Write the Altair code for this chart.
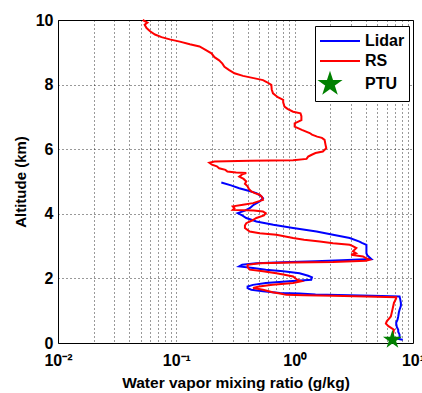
import altair as alt
import pandas as pd

# ---- data ----
rs_alt = [0.10, 0.21, 0.30, 0.41, 0.52, 0.60, 0.67, 0.82, 1.03, 1.24, 1.38, 1.42, 1.44, 1.46, 1.48, 1.49,
          1.53, 1.57, 1.65, 1.70, 1.75, 1.80, 1.86, 1.91, 1.96, 2.06, 2.12, 2.16, 2.22, 2.27, 2.35, 2.42,
          2.47, 2.49, 2.51, 2.55, 2.58, 2.63, 2.68, 2.73, 2.78, 2.84, 2.94, 3.00, 3.04, 3.09, 3.14, 3.20,
          3.25, 3.35, 3.40, 3.45, 3.56, 3.64, 3.71, 3.80, 3.87, 3.95, 4.02, 4.07, 4.10, 4.12, 4.17, 4.23,
          4.28, 4.33, 4.43, 4.52, 4.59, 4.64, 4.69, 4.77, 4.85, 4.93, 5.00, 5.08, 5.15, 5.22, 5.26, 5.28,
          5.31, 5.36, 5.41, 5.47, 5.52, 5.58, 5.62, 5.64, 5.66, 5.70, 5.77, 5.82, 5.88, 5.93, 6.03, 6.15,
          6.29, 6.35, 6.39, 6.45, 6.50, 6.60, 6.70, 6.80, 6.90, 7.02, 7.11, 7.16, 7.25, 7.32, 7.45, 7.53,
          7.61, 7.73, 7.85, 7.99, 8.08, 8.14, 8.20, 8.27, 8.35, 8.45, 8.55, 8.65, 8.75, 8.85, 8.97, 9.08,
          9.18, 9.25, 9.33, 9.40, 9.47, 9.55, 9.65, 9.75, 9.85, 9.92, 10.0]
rs_val = [6.9, 6.7, 6.8, 6.9, 6.2, 5.9, 6.0, 6.5, 6.7, 6.9, 7.2, 7.2, 4.0, 2.1, 1.2, 0.85,
          0.75, 0.65, 0.54, 0.445, 0.50, 0.65, 0.97, 1.14, 1.05, 0.97, 0.80, 0.70, 0.54, 0.417, 0.40, 0.40,
          0.506, 0.97, 2.11, 4.0, 4.3, 4.0, 3.78, 3.0, 3.3, 3.11, 3.32, 3.1, 2.92, 2.11, 1.63, 1.2,
          0.97, 0.70, 0.506, 0.417, 0.38, 0.38, 0.39, 0.44, 0.475, 0.55, 0.57, 0.54, 0.45, 0.30, 0.31, 0.30,
          0.366, 0.445, 0.54, 0.53, 0.506, 0.46, 0.43, 0.41, 0.40, 0.38, 0.39, 0.37, 0.34, 0.36, 0.39, 0.32,
          0.27, 0.26, 0.23, 0.22, 0.20, 0.19, 0.21, 0.42, 0.97, 1.26, 1.30, 1.38, 1.50, 1.73, 1.85, 1.82,
          1.79, 1.70, 1.55, 1.40, 1.34, 1.15, 1.0, 1.0, 1.14, 1.14, 1.12, 0.97, 0.87, 0.82, 0.80, 0.80,
          0.72, 0.656, 0.64, 0.635, 0.58, 0.54, 0.45, 0.366, 0.31, 0.28, 0.255, 0.245, 0.23, 0.21, 0.198, 0.175,
          0.157, 0.13, 0.107, 0.088, 0.075, 0.066, 0.060, 0.056, 0.054, 0.057, 0.052]

lidar_alt = [0.10, 0.12, 0.15, 0.26, 0.35, 0.41, 0.50, 0.62, 0.72, 0.82, 0.95, 1.03, 1.15, 1.24, 1.35, 1.44,
             1.46, 1.48, 1.50, 1.53, 1.55, 1.60, 1.65, 1.70, 1.75, 1.80, 1.86, 1.91, 1.96, 2.03, 2.08, 2.16,
             2.22, 2.27, 2.32, 2.37, 2.42, 2.47, 2.50, 2.53, 2.56, 2.60, 2.65, 2.72, 2.78, 2.90, 3.04, 3.10,
             3.14, 3.25, 3.35, 3.45, 3.56, 3.66, 3.76, 3.87, 3.95, 4.02, 4.10, 4.18, 4.28, 4.38, 4.48, 4.55,
             4.64, 4.72, 4.79, 4.88, 4.97]
lidar_val = [8.2, 7.6, 7.7, 7.7, 7.5, 7.5, 7.3, 7.2, 7.4, 7.5, 7.6, 7.7, 7.9, 7.9, 7.8, 7.7,
             4.5, 2.9, 1.5, 1.1, 0.75, 0.54, 0.43, 0.40, 0.40, 0.445, 0.57, 0.9, 1.38, 1.40, 1.30, 1.1,
             0.8, 0.57, 0.445, 0.34, 0.36, 0.475, 0.8, 1.5, 2.5, 4.45, 4.3, 4.1, 4.04, 4.04, 4.04, 3.7,
             3.53, 2.92, 2.11, 1.53, 0.97, 0.66, 0.475, 0.39, 0.36, 0.33, 0.38, 0.42, 0.45, 0.506, 0.54, 0.52,
             0.475, 0.40, 0.34, 0.29, 0.24]

ptu_alt = [0.1]
ptu_val = [6.7]

names = ["Lidar", "RS", "PTU"]
colors = ["#0000FF", "#FF0000", "#008000"]
x_ticks = [m * 10.0 ** e for e in (-2, -1, 0) for m in range(1, 10)] + [10.0]
y_ticks = [0, 2, 4, 6, 8, 10]

# ---- tables ----
lines = pd.concat([
    pd.DataFrame({"series": "Lidar", "alt": lidar_alt, "val": lidar_val, "i": range(len(lidar_alt))}),
    pd.DataFrame({"series": "RS", "alt": rs_alt, "val": rs_val, "i": range(len(rs_alt))}),
])
ptu = pd.DataFrame({"series": "PTU", "alt": ptu_alt, "val": ptu_val})

star = ("M0,-1L0.2245,-0.309L0.951,-0.309L0.363,0.118L0.588,0.809L0,0.382"
        "L-0.588,0.809L-0.363,0.118L-0.951,-0.309L-0.2245,-0.309Z")
seg = "M-1,0H3"

FONT = "Liberation Sans"

label_expr = ("abs(log(datum.value)/LN10 - round(log(datum.value)/LN10)) < 0.001 ? "
              "'10' + ['\u207b\u00b2','\u207b\u00b9','\u2070','\u00b9'][round(log(datum.value)/LN10)+2] : ''")

x_enc = alt.X("val:Q",
              scale=alt.Scale(type="log", domain=[0.01, 10], nice=False),
              axis=alt.Axis(values=x_ticks, labelExpr=label_expr, title="Water vapor mixing ratio (g/kg)",
                            grid=True, gridDash=[1, 3], gridColor="#000000", gridOpacity=0.8,
                            ticks=False, domain=False, labelFontSize=16, labelPadding=9,
                            labelFontWeight="bold", labelFlush=False, labelOverlap=False,
                            titleFontSize=15.5, titlePadding=7, titleFontWeight="bold",
                            labelColor="#000", titleColor="#000", labelFont=FONT, titleFont=FONT))
y_enc = alt.Y("alt:Q",
              scale=alt.Scale(domain=[0, 10], nice=False),
              axis=alt.Axis(values=y_ticks, title="Altitude (km)", grid=True, gridDash=[1, 3],
                            gridColor="#000000", gridOpacity=0.8, ticks=False, domain=False,
                            labelFontSize=16, labelPadding=5, labelFontWeight="bold",
                            titleFontSize=15, titlePadding=7,
                            titleFontWeight="bold", labelColor="#000", titleColor="#000",
                            labelFont=FONT, titleFont=FONT))

color_enc = alt.Color("series:N", scale=alt.Scale(domain=names, range=colors),
                      legend=alt.Legend(title=None, orient="none", legendX=257, legendY=6,
                                        fillColor="white", strokeColor="#000", padding=4,
                                        symbolSize=400, symbolStrokeWidth=2, labelOffset=24,
                                        labelFontSize=16, labelFont=FONT, labelColor="#000",
                                        labelFontWeight="bold",
                                        rowPadding=1, symbolOpacity=1))

line_layer = alt.Chart(lines).mark_line(strokeWidth=2).encode(
    x=x_enc, y=y_enc, color=color_enc, detail="series:N", order="i:Q")

pt_layer = alt.Chart(ptu).mark_point(filled=True, size=400, opacity=1).encode(
    x=x_enc, y=y_enc, color=color_enc,
    shape=alt.Shape("series:N", scale=alt.Scale(domain=names, range=[seg, seg, star]), legend=None))

chart = alt.layer(line_layer, pt_layer).properties(
    width=355, height=323,
    autosize=alt.AutoSizeParams(type="none"),
    padding={"left": 58, "top": 20, "right": 9, "bottom": 50},
    background="white",
).configure_view(stroke="#000", strokeWidth=1)

chart.save("out.html", embed_options={"renderer": "svg", "actions": False})
